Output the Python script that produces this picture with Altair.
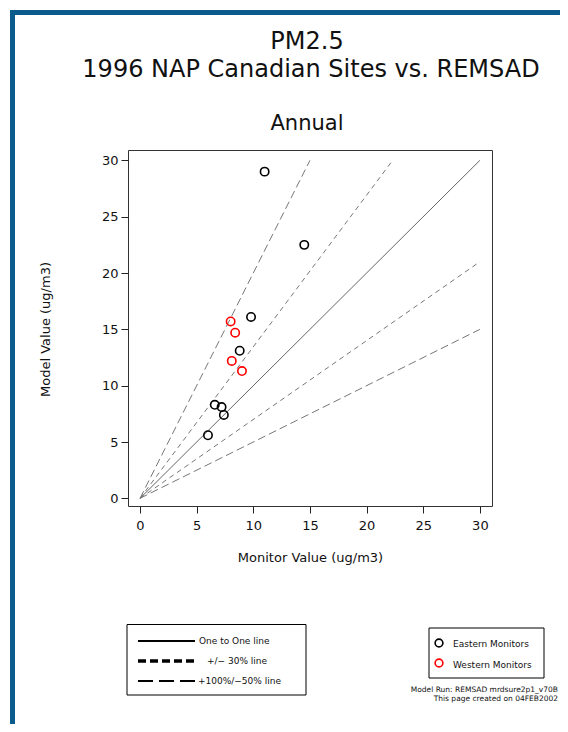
import altair as alt
import pandas as pd

# ---------------- data ----------------
east_x = [11.0, 14.5, 9.8, 8.8, 6.6, 7.2, 7.4, 6.0]
east_y = [29.0, 22.5, 16.1, 13.1, 8.3, 8.1, 7.4, 5.6]
west_x = [8.0, 8.4, 8.1, 9.0]
west_y = [15.7, 14.7, 12.2, 11.3]

one_x = [0, 30]
one_y = [0, 30]
p30_hi_x = [0, 22.3]
p30_hi_y = [0, 30]
p30_lo_x = [0, 30]
p30_lo_y = [0, 21]
p100_x = [0, 15]
p100_y = [0, 30]
m50_x = [0, 30]
m50_y = [0, 15]

tick_values = [0, 5, 10, 15, 20, 25, 30]
X_DOMAIN = [-1.06, 31.07]
Y_DOMAIN = [-0.68, 30.92]

FONT = "DejaVu Sans"
W, H = 364, 356
PL, PT = 120, 142  # plot origin within svg (page 128,150)
TOTAL_W, TOTAL_H = 552, 716


def px(X):
    return X - 128


def py(Y):
    return Y - 150


xs = alt.Scale(domain=X_DOMAIN, nice=False, zero=False)
ys = alt.Scale(domain=Y_DOMAIN, nice=False, zero=False)

xax = alt.Axis(values=tick_values, title="Monitor Value (ug/m3)", tickSize=7,
               tickColor="#222", domain=False, grid=False, labelFont=FONT,
               labelFontSize=13, labelColor="#111", labelPadding=6,
               labelFontWeight="normal", titleFont=FONT, titleFontSize=13,
               titleFontWeight="normal", titleColor="#111", titleX=182, titleY=51,
               titleBaseline="middle")
yax = alt.Axis(values=tick_values, title="Model Value (ug/m3)", tickSize=7,
               tickColor="#222", domain=False, grid=False, labelFont=FONT,
               labelFontSize=13, labelColor="#111", labelPadding=3,
               labelFontWeight="normal", titleFont=FONT, titleFontSize=13,
               titleFontWeight="normal", titleColor="#111", titleX=-83, titleY=179,
               titleAngle=-90, titleBaseline="middle", titleAlign="center")


def line_layer(xv, yv, dash, color="#777"):
    df = pd.DataFrame({"x": xv, "y": yv})
    mk = dict(color=color, strokeWidth=1, clip=True)
    if dash:
        mk["strokeDash"] = dash
    return alt.Chart(df).mark_line(**mk).encode(
        x=alt.X("x:Q", scale=xs, axis=xax),
        y=alt.Y("y:Q", scale=ys, axis=yax),
    )


lines = [
    line_layer(one_x, one_y, None, "#666"),
    line_layer(p30_hi_x, p30_hi_y, [5, 4]),
    line_layer(p30_lo_x, p30_lo_y, [5, 4]),
    line_layer(p100_x, p100_y, [8, 4]),
    line_layer(m50_x, m50_y, [8, 4]),
]

pts = pd.DataFrame({
    "x": east_x + west_x,
    "y": east_y + west_y,
    "group": ["Eastern Monitors"] * len(east_x) + ["Western Monitors"] * len(west_x),
})
points = alt.Chart(pts).mark_point(shape="circle", filled=False, size=70,
                                   strokeWidth=1.6, opacity=1).encode(
    x=alt.X("x:Q", scale=xs, axis=xax),
    y=alt.Y("y:Q", scale=ys, axis=yax),
    color=alt.Color("group:N", scale=alt.Scale(
        domain=["Eastern Monitors", "Western Monitors"],
        range=["#000000", "#ff0000"]), legend=None),
)

dummy = pd.DataFrame({"a": [0]})


def text(t, X, Y, size, align="left", weight="normal", baseline="middle"):
    return alt.Chart(dummy).mark_text(
        text=t, font=FONT, fontSize=size, fontWeight=weight, align=align,
        baseline=baseline, color="#111").encode(
        x=alt.value(px(X)), y=alt.value(py(Y)))


def hrule(X1, X2, Y, width, dash=None, color="#000"):
    mk = dict(color=color, strokeWidth=width)
    if dash:
        mk["strokeDash"] = dash
    return alt.Chart(dummy).mark_rule(**mk).encode(
        x=alt.value(px(X1)), x2=alt.value(px(X2)), y=alt.value(py(Y)))


def vrule(X, Y1, Y2, width, color="#000"):
    return alt.Chart(dummy).mark_rule(color=color, strokeWidth=width).encode(
        x=alt.value(px(X)), y=alt.value(py(Y1)), y2=alt.value(py(Y2)))


def box(X1, X2, Y1, Y2, color="#000", width=1):
    return alt.Chart(dummy).mark_rect(fillOpacity=0, stroke=color,
                                      strokeWidth=width).encode(
        x=alt.value(px(X1)), x2=alt.value(px(X2)),
        y=alt.value(py(Y1)), y2=alt.value(py(Y2)))


def marker(X, Y, color):
    return alt.Chart(dummy).mark_point(shape="circle", filled=False, size=60,
                                       strokeWidth=1.6, color=color,
                                       opacity=1).encode(
        x=alt.value(px(X)), y=alt.value(py(Y)))


BLUE = "#0b5b8c"
deco = [
    hrule(10, 560, 12.5, 5, color=BLUE),
    vrule(12.5, 10, 724, 5, color=BLUE),
    text("PM2.5", 307, 41.5, 24, align="center"),
    text("1996 NAP Canadian Sites vs. REMSAD", 311, 69.5, 24, align="center"),
    text("Annual", 307, 123.5, 21, align="center"),
    # line legend
    box(127, 306, 624.5, 695),
    hrule(138, 195, 641, 2),
    text("One to One line", 199, 641, 9),
    hrule(138, 195, 661, 3.5, [8, 4]),
    text("+/\u2212  30% line", 207, 661, 9),
    hrule(138, 197, 681, 2, [15, 6]),
    text("+100%/\u221250% line", 198, 681, 9),
    # marker legend
    box(429, 544, 628, 678),
    marker(439, 643, "#000000"),
    text("Eastern Monitors", 453, 644, 9),
    marker(439, 663, "#ff0000"),
    text("Western Monitors", 453, 665, 9),
    text("Model Run: REMSAD mrdsure2p1_v70B", 558, 690, 7.5, align="right"),
    text("This page created on 04FEB2002", 558, 699, 7.5, align="right"),
]

chart = alt.layer(*lines, points, *deco).properties(
    width=W, height=H,
    autosize=alt.AutoSizeParams(type="none"),
    padding={"left": PL, "top": PT, "right": TOTAL_W - PL - W,
             "bottom": TOTAL_H - PT - H},
    background="white",
).configure_view(stroke="#333", strokeWidth=1)

chart.save("out.html", embed_options={"renderer": "svg", "actions": False})
